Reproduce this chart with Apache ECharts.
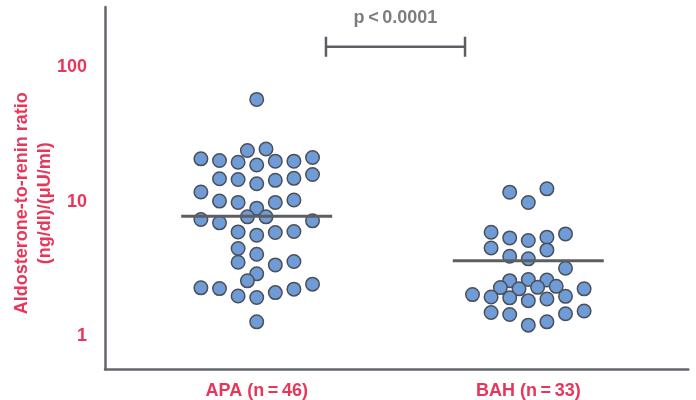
<!DOCTYPE html>
<html><head><meta charset="utf-8">
<script src="https://cdn.jsdelivr.net/npm/echarts@6/dist/echarts.min.js"></script>
<style>html,body{margin:0;padding:0;background:#fff}#c{width:696px;height:400px}</style>
</head><body><div id="c"></div>
<script>
// ---- data ----
const categories = ['APA (n\u2009=\u200946)', 'BAH (n\u2009=\u200933)'];
const apaValues = [57.5, 24.0, 24.6, 20.8, 20.2, 19.6, 18.7, 20.0, 20.0, 21.3,
  14.8, 14.6, 13.6, 14.4, 14.9, 15.9, 11.8, 10.1, 9.87, 8.95,
  9.87, 10.3, 7.37, 6.96, 7.71, 7.71, 7.20, 5.96, 5.64, 5.90,
  6.0, 4.49, 4.07, 3.55, 3.39, 3.59, 2.91, 2.58, 2.29, 2.26,
  1.99, 1.94, 2.11, 2.24, 2.44, 1.28];
const apaColumns = [0, -0.5, 0.5, -3, -2, -1, 0, 1, 2, 3,
  -2, -1, 0, 1, 2, 3, -3, -2, -1, 0,
  1, 2, -3, -2, -0.5, 0.5, 3, -1, 0, 1,
  2, -1, 0, -1, 1, 2, 0, -0.5, -3, -2,
  -1, 0, 1, 2, 3, 0];
const bahValues = [11.77, 9.86, 12.45, 5.93, 5.38, 5.15, 5.45, 5.76, 4.53, 4.38,
  3.93, 3.76, 3.20, 2.59, 2.64, 2.62, 2.30, 2.25, 2.31, 2.35,
  2.04, 1.96, 1.93, 1.84, 1.89, 1.98, 2.25, 1.50, 1.45, 1.21,
  1.28, 1.47, 1.54];
const bahColumns = [-1, 0, 1, -2, -1, 0, 1, 2, -2, 1,
  -1, 0, 2, -1, 0, 1, -1.5, -0.5, 0.5, 1.5,
  -3, -2, -1, 0, 1, 2, 3, -2, -1, 0,
  1, 2, 3];
const medians = [7.8, 3.64];
const pText = 'p\u2009<\u20090.0001';
const bracketValue = 141.6;
const bracketLow = 119.3;
const bracketHigh = 168;
const bracketFrom = 0.255;
const bracketTo = 0.767;

// ---- styles ----
const RED = '#e8365b';
const AXIS = '#63676c';
const STEP = 0.0685;
const HALF = 0.278;
const FONT = 'Liberation Sans, Arial, sans-serif';

function pts(values, cols, g) {
  return values.map((v, i) => [g + cols[i] * STEP, v]);
}

const chart = echarts.init(document.getElementById('c'), null, {renderer: 'canvas'});
chart.setOption({
  animation: false,
  backgroundColor: '#fff',
  grid: {left: 105, right: 7.7, top: 7, bottom: 30.7, containLabel: false, outerBoundsMode: 'none'},
  xAxis: {
    type: 'value', min: -0.5586, max: 1.5891,
    axisLine: {show: true, onZero: false, lineStyle: {color: AXIS, width: 2.5}},
    axisTick: {show: false},
    splitLine: {show: false},
    axisLabel: {
      customValues: [0, 1],
      formatter: v => categories[Math.round(v)] || '',
      color: RED, fontFamily: FONT, fontWeight: 'bold', fontSize: 18, margin: 13
    }
  },
  yAxis: {
    type: 'log', logBase: 10, min: 0.5684, max: 279.3,
    axisLine: {show: true, onZero: false, lineStyle: {color: AXIS, width: 2.5}},
    axisTick: {show: false},
    splitLine: {show: false},
    axisLabel: {
      showMinLabel: false, showMaxLabel: false,
      formatter: v => String(Math.round(v)),
      color: RED, fontFamily: FONT, fontWeight: 'bold', fontSize: 18, margin: 18
    },
    name: 'Aldosterone-to-renin ratio\n(ng/dl)/(\u03bcU/ml)',
    nameLocation: 'middle', nameRotate: 90, nameGap: 48, nameMoveOverlap: false,
    nameTextStyle: {color: RED, fontFamily: FONT, fontWeight: 'bold', fontSize: 18, lineHeight: 23, padding: [0, 30, 0, 0]}
  },
  series: [
    {
      type: 'scatter', name: categories[0], data: pts(apaValues, apaColumns, 0),
      symbolSize: 13.5, itemStyle: {color: '#6f9bd6', borderColor: '#4b5058', borderWidth: 1.5, opacity: 1}, z: 2
    },
    {
      type: 'scatter', name: categories[1], data: pts(bahValues, bahColumns, 1),
      symbolSize: 13.5, itemStyle: {color: '#6f9bd6', borderColor: '#4b5058', borderWidth: 1.5, opacity: 1}, z: 2
    },
    {
      type: 'line', data: [[0 - HALF, medians[0]], [0 + HALF, medians[0]]],
      symbol: 'none', lineStyle: {color: '#5b5e63', width: 3}, z: 3
    },
    {
      type: 'line', data: [[1 - HALF, medians[1]], [1 + HALF, medians[1]]],
      symbol: 'none', lineStyle: {color: '#5b5e63', width: 3}, z: 3
    },
    {
      type: 'line', connectNulls: false,
      data: [[bracketFrom, bracketHigh], [bracketFrom, bracketLow], [bracketFrom, '-'],
             [bracketFrom, bracketValue], [bracketTo, bracketValue], [bracketTo, '-'],
             [bracketTo, bracketHigh], [bracketTo, bracketLow]],
      symbol: 'none', lineStyle: {color: '#5b5e63', width: 2.5}, z: 3
    },
    {
      type: 'scatter', data: [[(bracketFrom + bracketTo) / 2, bracketValue]],
      symbol: 'circle', symbolSize: 1, itemStyle: {color: 'rgba(0,0,0,0)'},
      label: {show: true, position: 'top', distance: 19, formatter: pText,
        color: '#5a5d62', fontFamily: FONT, fontWeight: 'bold', fontSize: 18},
      z: 4
    }
  ]
});
</script></body></html>
